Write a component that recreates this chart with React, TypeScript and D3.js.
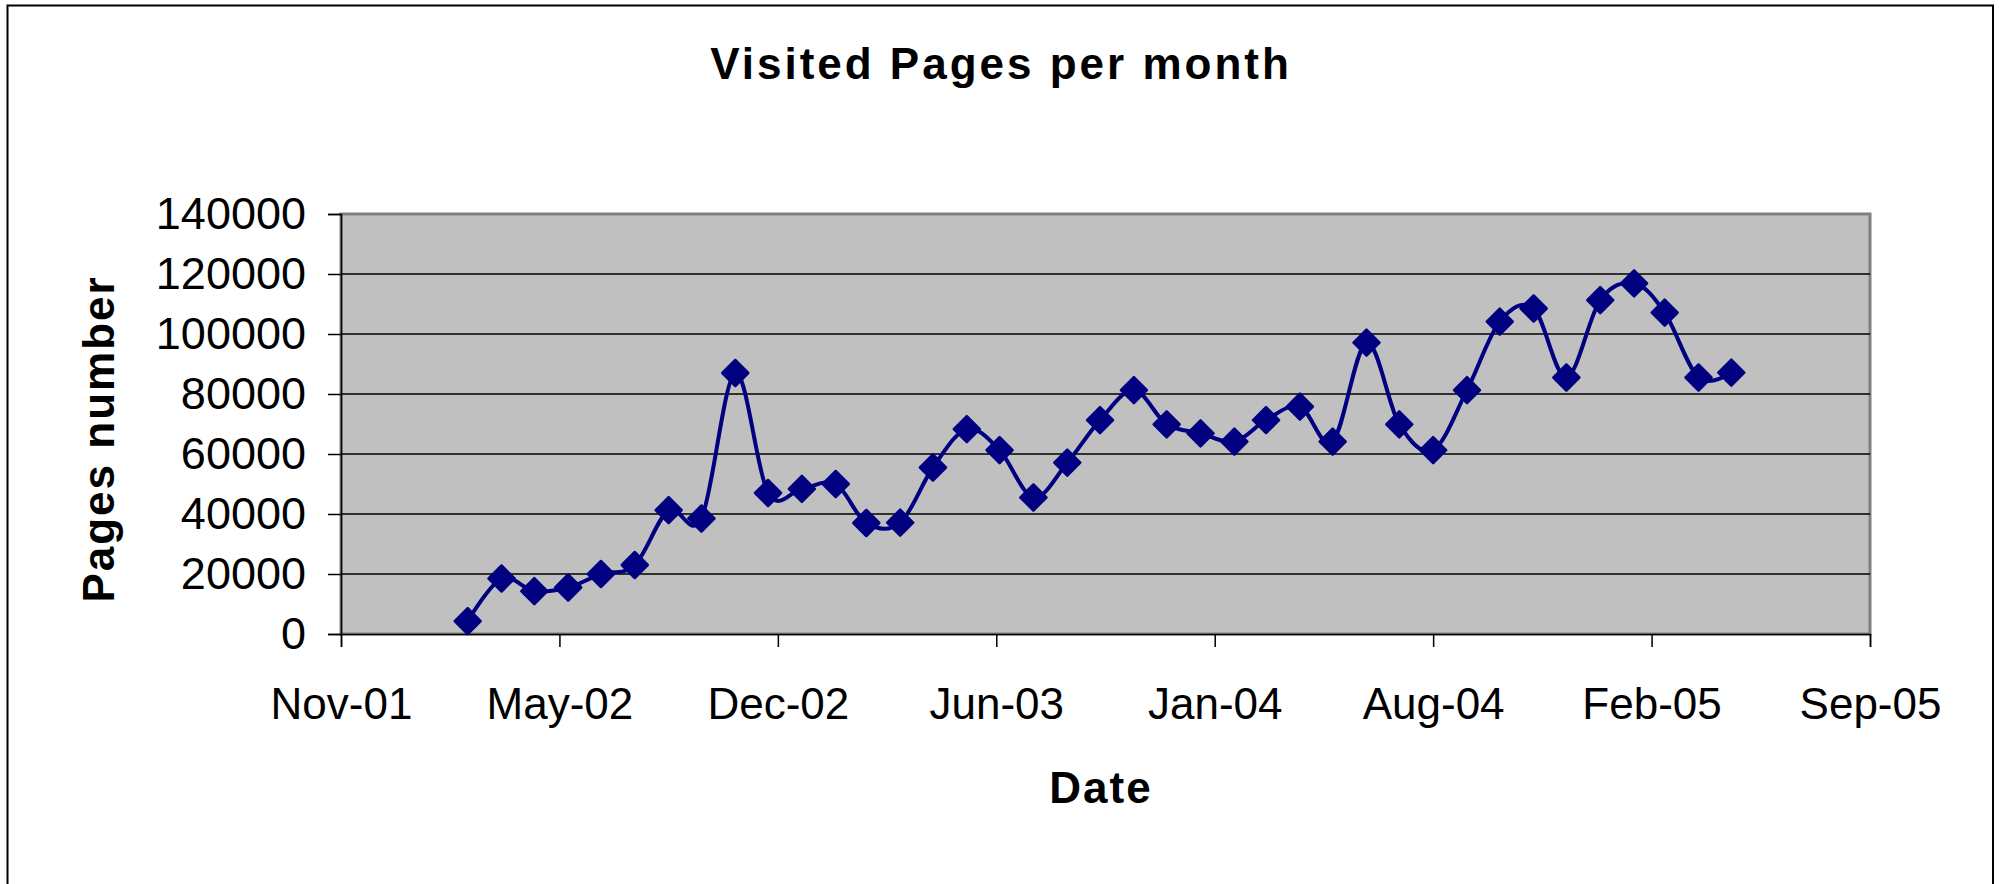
import React, { useEffect, useRef } from "react";
import * as d3 from "d3";

// monthly visits, first point Mar-2002, last May-2005
const startMonth = new Date(2002, 2, 1);
const pageCounts = [
  4300, 18500, 14300, 15500, 20000, 23000, 41300, 38500, 87000, 47000,
  48400, 50000, 37000, 37100, 55500, 68300, 61300, 45500, 57100, 71300,
  81300, 69900, 66900, 64100, 71300, 75800, 64100, 97100, 69900, 61300,
  81300, 104100, 108500, 85500, 111300, 116900, 107100, 85500, 87100,
];

// Excel date axis: min = 5 Nov 2001, major unit 200 days
const axisStart = new Date(2001, 10, 5);
const axisStepDays = 200;
const tickCount = 8;
const tickLabels = ["Nov-01", "May-02", "Dec-02", "Jun-03", "Jan-04", "Aug-04", "Feb-05", "Sep-05"];
const yTicks = [0, 20000, 40000, 60000, 80000, 100000, 120000, 140000];

const titleText = "Visited Pages per month";
const xTitle = "Date";
const yTitle = "Pages number";

const W = 1999;
const H = 884;
const plot = { left: 341, right: 1870, top: 214, bottom: 634 };

export default function App() {
  const ref = useRef<SVGSVGElement>(null);

  useEffect(() => {
    const svg = d3.select(ref.current);
    svg.selectAll("*").remove();

    const tickDates = d3.range(tickCount).map((i) => d3.timeDay.offset(axisStart, i * axisStepDays));
    const data = pageCounts.map((v, i) => ({ date: d3.timeMonth.offset(startMonth, i), value: v }));

    const x = d3.scaleTime()
      .domain([tickDates[0], tickDates[tickDates.length - 1]])
      .range([plot.left, plot.right]);
    const y = d3.scaleLinear()
      .domain([0, 140000])
      .range([plot.bottom, plot.top]);

    // chart frame
    svg.append("rect")
      .attr("x", 7.5).attr("y", 5.5)
      .attr("width", 1985.5).attr("height", H + 20)
      .attr("fill", "#fff")
      .attr("stroke", "#000")
      .attr("stroke-width", 2);

    // plot area
    svg.append("rect")
      .attr("x", plot.left).attr("y", plot.top)
      .attr("width", plot.right - plot.left)
      .attr("height", plot.bottom - plot.top)
      .attr("fill", "#c0c0c0")
      .attr("stroke", "#808080")
      .attr("stroke-width", 3);

    // gridlines
    svg.append("g")
      .selectAll("line")
      .data(yTicks.slice(1, -1))
      .join("line")
      .attr("x1", plot.left).attr("x2", plot.right)
      .attr("y1", (d) => y(d)).attr("y2", (d) => y(d))
      .attr("stroke", "#000")
      .attr("stroke-width", 1.3);

    const font = "Liberation Sans, Arial, sans-serif";

    // y axis
    const yAxis = d3.axisLeft(y)
      .tickValues(yTicks)
      .tickSize(13)
      .tickPadding(22)
      .tickFormat((d) => String(d));
    const gy = svg.append("g")
      .attr("transform", `translate(${plot.left},0)`)
      .call(yAxis);
    gy.select(".domain").attr("stroke", "#000").attr("stroke-width", 1.5);
    gy.selectAll(".tick line").attr("stroke", "#000").attr("stroke-width", 1.5);
    gy.selectAll(".tick text")
      .attr("fill", "#000")
      .style("font-family", font)
      .style("font-size", "45px");

    // x axis
    const xAxis = d3.axisBottom(x)
      .tickValues(tickDates)
      .tickSize(13)
      .tickPadding(0)
      .tickFormat((d, i) => tickLabels[i]);
    const gx = svg.append("g")
      .attr("transform", `translate(0,${plot.bottom})`)
      .call(xAxis);
    gx.select(".domain").attr("stroke", "#000").attr("stroke-width", 1.5);
    gx.selectAll(".tick line").attr("stroke", "#000").attr("stroke-width", 1.5);
    gx.selectAll(".tick text")
      .attr("fill", "#000")
      .attr("dy", null)
      .attr("y", 85)
      .style("font-family", font)
      .style("font-size", "44px");

    // line
    const line = d3.line<{ date: Date; value: number }>()
      .x((d) => x(d.date))
      .y((d) => y(d.value))
      .curve(d3.curveCardinal.tension(0));
    svg.append("path")
      .datum(data)
      .attr("d", line)
      .attr("fill", "none")
      .attr("stroke", "#000080")
      .attr("stroke-width", 4);

    // diamond markers
    const r = 13;
    const diamond = (cx: number, cy: number) =>
      `M${cx},${cy - r}L${cx + r},${cy}L${cx},${cy + r}L${cx - r},${cy}Z`;
    svg.append("g")
      .selectAll("path")
      .data(data)
      .join("path")
      .attr("d", (d) => diamond(x(d.date), y(d.value)))
      .attr("fill", "#000080")
      .attr("stroke", "#000080")
      .attr("stroke-width", 2.5)
      .attr("stroke-linejoin", "round");

    // titles
    svg.append("text")
      .attr("x", 1001).attr("y", 79)
      .attr("text-anchor", "middle")
      .style("font-family", font)
      .style("font-weight", "bold")
      .style("font-size", "44px")
      .style("letter-spacing", "3px")
      .text(titleText);

    svg.append("text")
      .attr("x", 1101).attr("y", 803)
      .attr("text-anchor", "middle")
      .style("font-family", font)
      .style("font-weight", "bold")
      .style("font-size", "44px")
      .style("letter-spacing", "2px")
      .text(xTitle);

    svg.append("text")
      .attr("transform", `translate(114,439) rotate(-90)`)
      .attr("text-anchor", "middle")
      .style("font-family", font)
      .style("font-weight", "bold")
      .style("font-size", "44px")
      .style("letter-spacing", "2px")
      .text(yTitle);
  }, []);

  return (
    <div style={{ position: "absolute", left: 0, top: 0 }}>
      <svg ref={ref} width={W} height={H} style={{ display: "block" }} />
    </div>
  );
}
